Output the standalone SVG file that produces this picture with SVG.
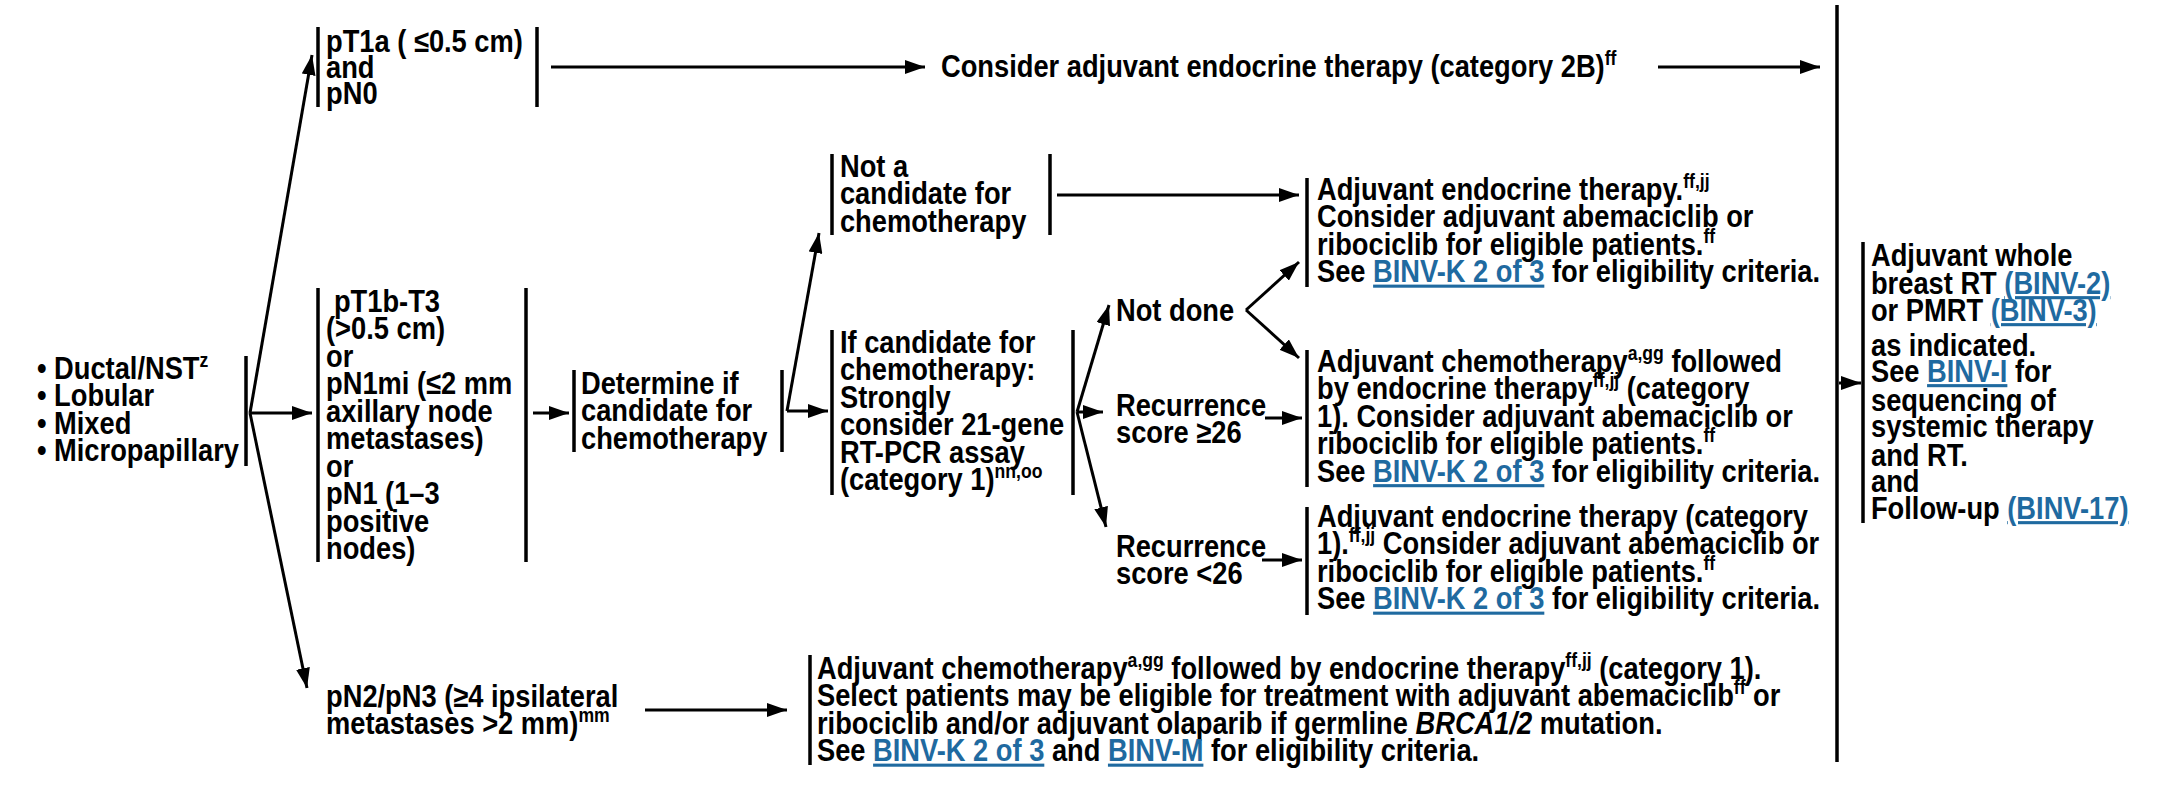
<svg xmlns="http://www.w3.org/2000/svg" width="2157" height="793" viewBox="0 0 2157 793">
<style>
.t{font-family:"Liberation Sans",Arial,Helvetica,sans-serif;font-weight:bold;font-size:31px;fill:#000}
.sup{font-size:20px}
.lnk{fill:#1f6aa0;text-decoration:underline}
.it{font-style:italic}
.bar{stroke:#000;stroke-width:3.5;fill:none}
.c{stroke:#000;stroke-width:3;fill:none;marker-end:url(#ah)}
</style>
<defs>
<marker id="ah" markerUnits="userSpaceOnUse" markerWidth="20" markerHeight="14" refX="20" refY="7" orient="auto"><path d="M0,0 L20,7 L0,14 z" fill="#000"/></marker>
</defs>
<rect width="2157" height="793" fill="#fff"/>

<g id="n-histology">
<line class="bar" x1="246" y1="356" x2="246" y2="466"/>
<g transform="scale(0.88 1)">
<text class="t" x="42" y="379">• Ductal/NST<tspan class="sup" dy="-12">z</tspan></text>
<text class="t" x="42" y="406.5">• Lobular</text>
<text class="t" x="42" y="434">• Mixed</text>
<text class="t" x="42" y="461.5">• Micropapillary</text>
</g>
</g>

<g id="n-pt1a">
<line class="bar" x1="318" y1="27" x2="318" y2="107"/>
<line class="bar" x1="537" y1="27" x2="537" y2="107"/>
<g transform="scale(0.88 1)">
<text class="t" x="370.5" y="52">pT1a ( ≤0.5 cm)</text>
<text class="t" x="370.5" y="78">and</text>
<text class="t" x="370.5" y="104">pN0</text>
</g>
</g>

<g id="n-consider-endocrine">
<g transform="scale(0.88 1)">
<text class="t" x="1069.3" y="77">Consider adjuvant endocrine therapy (category 2B)<tspan class="sup" dy="-12">ff</tspan></text>
</g>
</g>

<g id="n-pt1b">
<line class="bar" x1="318" y1="288" x2="318" y2="562"/>
<line class="bar" x1="526" y1="288" x2="526" y2="562"/>
<g transform="scale(0.88 1)">
<text class="t" x="379.5" y="312">pT1b-T3</text>
<text class="t" x="370.5" y="339.5">(&gt;0.5 cm)</text>
<text class="t" x="370.5" y="367">or</text>
<text class="t" x="370.5" y="394.5">pN1mi (≤2 mm</text>
<text class="t" x="370.5" y="422">axillary node</text>
<text class="t" x="370.5" y="449.5">metastases)</text>
<text class="t" x="370.5" y="477">or</text>
<text class="t" x="370.5" y="504.5">pN1 (1–3</text>
<text class="t" x="370.5" y="532">positive</text>
<text class="t" x="370.5" y="559.5">nodes)</text>
</g>
</g>

<g id="n-determine">
<line class="bar" x1="574" y1="370" x2="574" y2="452"/>
<line class="bar" x1="782" y1="370" x2="782" y2="452"/>
<g transform="scale(0.88 1)">
<text class="t" x="660.2" y="394">Determine if</text>
<text class="t" x="660.2" y="421.5">candidate for</text>
<text class="t" x="660.2" y="449">chemotherapy</text>
</g>
</g>

<g id="n-not-candidate">
<line class="bar" x1="832" y1="154" x2="832" y2="235"/>
<line class="bar" x1="1050" y1="154" x2="1050" y2="235"/>
<g transform="scale(0.88 1)">
<text class="t" x="954.5" y="177">Not a</text>
<text class="t" x="954.5" y="204.5">candidate for</text>
<text class="t" x="954.5" y="232">chemotherapy</text>
</g>
</g>

<g id="n-if-candidate">
<line class="bar" x1="832" y1="330" x2="832" y2="495"/>
<line class="bar" x1="1073" y1="330" x2="1073" y2="495"/>
<g transform="scale(0.88 1)">
<text class="t" x="954.5" y="353">If candidate for</text>
<text class="t" x="954.5" y="380.5">chemotherapy:</text>
<text class="t" x="954.5" y="408">Strongly</text>
<text class="t" x="954.5" y="435.5">consider 21-gene</text>
<text class="t" x="954.5" y="463">RT-PCR assay</text>
<text class="t" x="954.5" y="490.5">(category 1)<tspan class="sup" dy="-12">nn,oo</tspan></text>
</g>
</g>

<g id="n-not-done">
<g transform="scale(0.88 1)">
<text class="t" x="1268.2" y="321">Not done</text>
</g>
</g>

<g id="n-rs-high">
<g transform="scale(0.88 1)">
<text class="t" x="1268.2" y="416">Recurrence</text>
<text class="t" x="1268.2" y="443">score ≥26</text>
</g>
</g>

<g id="n-rs-low">
<g transform="scale(0.88 1)">
<text class="t" x="1268.2" y="557">Recurrence</text>
<text class="t" x="1268.2" y="584">score &lt;26</text>
</g>
</g>

<g id="n-endocrine-1">
<line class="bar" x1="1307" y1="178" x2="1307" y2="287"/>
<g transform="scale(0.88 1)">
<text class="t" x="1496.6" y="200">Adjuvant endocrine therapy.<tspan class="sup" dy="-12">ff,jj</tspan></text>
<text class="t" x="1496.6" y="227.5">Consider adjuvant abemaciclib or</text>
<text class="t" x="1496.6" y="255">ribociclib for eligible patients.<tspan class="sup" dy="-12">ff</tspan></text>
<text class="t" x="1496.6" y="282.5">See <tspan class="lnk">BINV-K 2 of 3</tspan> for eligibility criteria.</text>
</g>
</g>

<g id="n-chemo-endocrine">
<line class="bar" x1="1307" y1="350" x2="1307" y2="487"/>
<g transform="scale(0.88 1)">
<text class="t" x="1496.6" y="372">Adjuvant chemotherapy<tspan class="sup" dy="-12">a,gg</tspan><tspan dy="12"> followed</tspan></text>
<text class="t" x="1496.6" y="399.5">by endocrine therapy<tspan class="sup" dy="-12">ff,jj</tspan><tspan dy="12"> (category</tspan></text>
<text class="t" x="1496.6" y="427">1). Consider adjuvant abemaciclib or</text>
<text class="t" x="1496.6" y="454.5">ribociclib for eligible patients.<tspan class="sup" dy="-12">ff</tspan></text>
<text class="t" x="1496.6" y="482">See <tspan class="lnk">BINV-K 2 of 3</tspan> for eligibility criteria.</text>
</g>
</g>

<g id="n-endocrine-2">
<line class="bar" x1="1307" y1="507" x2="1307" y2="615"/>
<g transform="scale(0.88 1)">
<text class="t" x="1496.6" y="527">Adjuvant endocrine therapy (category</text>
<text class="t" x="1496.6" y="554.5">1).<tspan class="sup" dy="-12">ff,jj</tspan><tspan dy="12"> Consider adjuvant abemaciclib or</tspan></text>
<text class="t" x="1496.6" y="582">ribociclib for eligible patients.<tspan class="sup" dy="-12">ff</tspan></text>
<text class="t" x="1496.6" y="609.5">See <tspan class="lnk">BINV-K 2 of 3</tspan> for eligibility criteria.</text>
</g>
</g>

<g id="n-pn2">
<g transform="scale(0.88 1)">
<text class="t" x="370.5" y="707">pN2/pN3 (≥4 ipsilateral</text>
<text class="t" x="370.5" y="734">metastases &gt;2 mm)<tspan class="sup" dy="-12">mm</tspan></text>
</g>
</g>

<g id="n-chemo-pn2">
<line class="bar" x1="810" y1="655" x2="810" y2="765"/>
<g transform="scale(0.88 1)">
<text class="t" x="928.4" y="679">Adjuvant chemotherapy<tspan class="sup" dy="-12">a,gg</tspan><tspan dy="12"> followed by endocrine therapy</tspan><tspan class="sup" dy="-12">ff,jj</tspan><tspan dy="12"> (category 1).</tspan></text>
<text class="t" x="928.4" y="706.5">Select patients may be eligible for treatment with adjuvant abemaciclib<tspan class="sup" dy="-12">ff</tspan><tspan dy="12"> or</tspan></text>
<text class="t" x="928.4" y="734">ribociclib and/or adjuvant olaparib if germline <tspan class="it">BRCA1/2</tspan> mutation.</text>
<text class="t" x="928.4" y="761.5">See <tspan class="lnk">BINV-K 2 of 3</tspan> and <tspan class="lnk">BINV-M</tspan> for eligibility criteria.</text>
</g>
</g>

<g id="n-radiation">
<line class="bar" x1="1863" y1="242" x2="1863" y2="523"/>
<g transform="scale(0.88 1)">
<text class="t" x="2126.1" y="266">Adjuvant whole</text>
<text class="t" x="2126.1" y="294">breast RT <tspan class="lnk">(BINV-2)</tspan></text>
<text class="t" x="2126.1" y="321">or PMRT <tspan class="lnk">(BINV-3)</tspan></text>
<text class="t" x="2126.1" y="356">as indicated.</text>
<text class="t" x="2126.1" y="382">See <tspan class="lnk">BINV-I</tspan> for</text>
<text class="t" x="2126.1" y="411">sequencing of</text>
<text class="t" x="2126.1" y="437">systemic therapy</text>
<text class="t" x="2126.1" y="466">and RT.</text>
<text class="t" x="2126.1" y="492">and</text>
<text class="t" x="2126.1" y="519">Follow-up <tspan class="lnk">(BINV-17)</tspan></text>
</g>
</g>

<g id="connectors">
<line class="bar" x1="1837" y1="5" x2="1837" y2="762"/>
<path class="c" d="M250,413 L312,55"/>
<path class="c" d="M250,413 L312,413"/>
<path class="c" d="M250,413 L307,688"/>
<path class="c" d="M551,67 L925,67"/>
<path class="c" d="M1658,67 L1820,67"/>
<path class="c" d="M533,413 L569,413"/>
<path class="c" d="M787,411 L819,233"/>
<path class="c" d="M787,411 L828,411"/>
<path class="c" d="M1057,195 L1299,195"/>
<path class="c" d="M1077,412 L1109,305"/>
<path class="c" d="M1077,412 L1103,412"/>
<path class="c" d="M1077,412 L1106,527"/>
<path class="c" d="M1246,310 L1299,262"/>
<path class="c" d="M1246,310 L1299,358"/>
<path class="c" d="M1265,418 L1302,418"/>
<path class="c" d="M1262,560 L1302,560"/>
<path class="c" d="M645,710 L787,710"/>
<path class="c" d="M1839,383 L1861,383"/>
</g>
</svg>
